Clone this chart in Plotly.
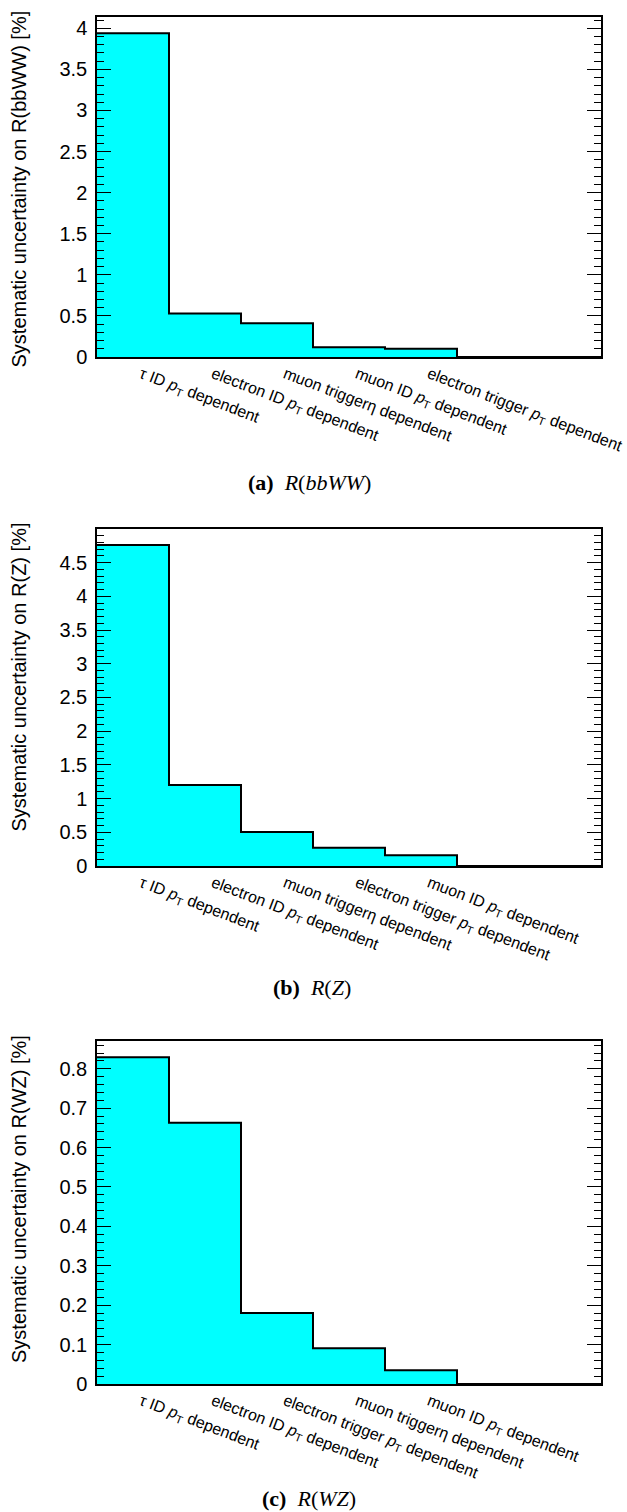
import plotly.graph_objects as go

PT = "<i>p</i><sub>T</sub>"

# ---------------- data ----------------
labels_a = ["τ ID " + PT + " dependent", "electron ID " + PT + " dependent",
            "muon triggerη dependent", "muon ID " + PT + " dependent",
            "electron trigger " + PT + " dependent"]
values_a = [3.94, 0.53, 0.41, 0.12, 0.10, 0.0, 0.0]

labels_b = ["τ ID " + PT + " dependent", "electron ID " + PT + " dependent",
            "muon triggerη dependent", "electron trigger " + PT + " dependent",
            "muon ID " + PT + " dependent"]
values_b = [4.76, 1.20, 0.505, 0.27, 0.16, 0.0, 0.0]

labels_c = ["τ ID " + PT + " dependent", "electron ID " + PT + " dependent",
            "electron trigger " + PT + " dependent", "muon triggerη dependent",
            "muon ID " + PT + " dependent"]
values_c = [0.829, 0.663, 0.180, 0.091, 0.035, 0.0, 0.0]

ytitles = ["Systematic uncertainty on R(bbWW) [%]",
           "Systematic uncertainty on R(Z) [%]",
           "Systematic uncertainty on R(WZ) [%]"]
captions = ["<b>(a)</b>  <i>R</i>(<i>bbWW</i>)",
            "<b>(b)</b>  <i>R</i>(<i>Z</i>)",
            "<b>(c)</b>  <i>R</i>(<i>WZ</i>)"]
major_dticks = [0.5, 0.5, 0.1]
minor_dticks = [0.1, 0.1, 0.02]

# ---------------- layout geometry (pixels) ----------------
W, H = 627, 1512
LEFT, RIGHT = 97, 601
TOPS = [17, 529, 1041]
BOTTOMS = [357, 866, 1384]
CAP_Y = [482, 987, 1498]
CAP_X = [246, 271, 260]


def fy(y):
    return 1 - y / H


fig = go.Figure()
panels = [(labels_a, values_a), (labels_b, values_b), (labels_c, values_c)]
annotations = []
layout = {}
for i, (labels, values) in enumerate(panels):
    n = len(values)
    edges = list(range(n + 1))
    ys = list(values) + [values[-1]]
    sfx = "" if i == 0 else str(i + 1)
    fig.add_trace(go.Scatter(
        x=edges, y=ys, mode="lines", line=dict(shape="hv", color="black", width=2),
        fill="tozeroy", fillcolor="#00FFFF", xaxis="x" + sfx, yaxis="y" + sfx,
        showlegend=False, hoverinfo="skip"))
    ydom = [fy(BOTTOMS[i]), fy(TOPS[i])]
    layout["xaxis" + sfx] = dict(
        domain=[LEFT / W, RIGHT / W], range=[0, n], anchor="y" + sfx,
        tickmode="array", tickvals=[k + 0.5 for k in range(len(labels))],
        ticktext=labels, tickangle=21, ticks="", showline=True, mirror=True,
        linecolor="black", linewidth=1.5, showgrid=False, zeroline=False,
        ticklabelshift=8, automargin=False,
        tickfont=dict(family="Liberation Sans", size=16, color="black"))
    layout["yaxis" + sfx] = dict(
        domain=ydom, range=[0, 1.05 * max(values)], anchor="x" + sfx,
        tick0=0, dtick=major_dticks[i], ticks="inside", ticklen=14, tickwidth=1,
        tickcolor="black", showline=True, mirror="ticks", linecolor="black",
        linewidth=1.5, showgrid=False, zeroline=False, ticklabelstandoff=4,
        automargin=False,
        minor=dict(dtick=minor_dticks[i], ticks="inside", ticklen=7,
                   tickcolor="black", tickwidth=1, showgrid=False),
        tickfont=dict(family="Liberation Sans", size=20, color="black"))
    annotations.append(dict(
        text=ytitles[i], textangle=-90, xref="paper", yref="paper",
        x=19 / W, xanchor="center", y=fy(TOPS[i] - 8), yanchor="top",
        showarrow=False, font=dict(family="Liberation Sans", size=20, color="black")))
    annotations.append(dict(
        text=captions[i], xref="paper", yref="paper", x=CAP_X[i] / W, xanchor="left",
        y=fy(CAP_Y[i]), yanchor="middle", showarrow=False,
        font=dict(family="Liberation Serif", size=22, color="black")))

fig.update_layout(
    width=W, height=H, margin=dict(l=0, r=0, t=0, b=0),
    paper_bgcolor="white", plot_bgcolor="white",
    annotations=annotations, **layout)

fig.write_html("out.html")
